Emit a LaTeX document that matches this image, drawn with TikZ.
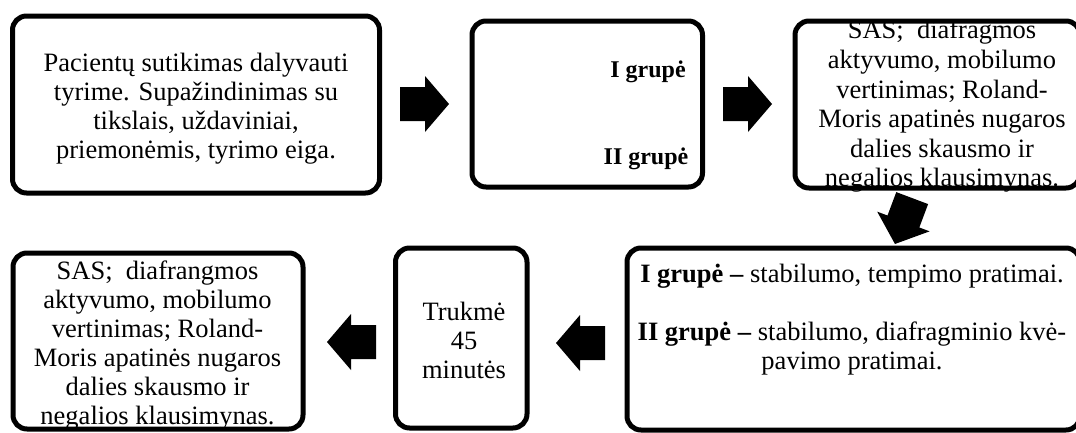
\documentclass[tikz,border=0pt]{standalone}
\usepackage{fontspec}
\setmainfont{Liberation Serif}
\begin{document}
\begin{tikzpicture}[x=1pt,y=-1pt,
  box/.style={draw, line width=5pt, rounded corners=14pt, inner sep=0pt},
  txt/.style={align=center, inner sep=0pt, font=\fontsize{26.5}{29}\selectfont},
  grp/.style={inner sep=0pt, anchor=base, font=\fontsize{24}{29}\selectfont\bfseries},
  blockarrow/.pic={\fill (-25,-17) -- (0,-17) -- (0,-28) -- (24,0) -- (0,28) -- (0,17) -- (-25,17) -- cycle;}]
\useasboundingbox (0,0) rectangle (1076,432);
% boxes
\node[box, minimum width=367pt, minimum height=177pt] (b1) at (196,104.5) {};
\node[box, minimum width=230.5pt, minimum height=166pt] (b2) at (587.25,104) {};
\node[box, minimum width=285pt, minimum height=167pt] (b3) at (937.5,104.5) {};
\node[box, minimum width=453pt, minimum height=182pt] (b4) at (853.5,339) {};
\node[box, minimum width=131.5pt, minimum height=180pt] (b5) at (461.25,338) {};
\node[box, minimum width=290pt, minimum height=176pt] (b6) at (158,341) {};
% texts
\node[txt] (t1) at (196,108.3) {Pacientų sutikimas dalyvauti\\tyrime. Supažindinimas su\\tikslais, uždaviniai,\\priemonėmis, tyrimo eiga.};
\node[grp] (t2a) at (648,77.5) {I grupė};
\node[grp] (t2b) at (646,164.6) {II grupė};
\node[txt, font=\fontsize{26.5}{29.6}\selectfont] (t3) at (942,106.5) {SAS;~ diafragmos\\aktyvumo, mobilumo\\vertinimas; Roland-\\Moris apatinės nugaros\\dalies skausmo ir\\negalios klausimynas.};
\node[txt] (t4) at (852,319.3) {\textbf{I grupė –} stabilumo, tempimo pratimai.\\ \mbox{}\\ \textbf{II grupė –} stabilumo, diafragminio kvė-\\pavimo pratimai.};
\node[txt] (t5) at (464,340.1) {Trukmė\\45\\minutės};
\node[txt] (t6) at (157.5,345.8) {SAS;~ diafrangmos\\aktyvumo, mobilumo\\vertinimas; Roland-\\Moris apatinės nugaros\\dalies skausmo ir\\negalios klausimynas.};
% block arrows
\pic at (425,104) {blockarrow};
\pic at (748,104) {blockarrow};
\pic[rotate=249.4] at (903.4,221.5) {blockarrow};
\pic[rotate=180] at (580,343) {blockarrow};
\pic[rotate=180] at (351,342) {blockarrow};
\end{tikzpicture}
\end{document}
